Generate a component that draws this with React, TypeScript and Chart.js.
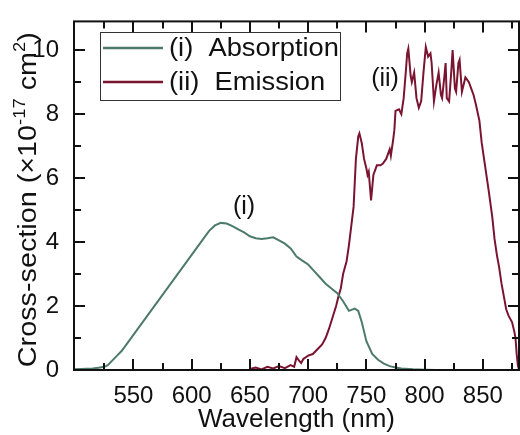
import React, { useEffect, useRef } from "react";
import { Chart, registerables } from "chart.js";

Chart.register(...registerables);

const absWavelength = [
  499, 505, 510, 515, 520, 525, 528, 532, 536, 540,
  545, 550, 555, 560, 565, 570, 575, 580, 585, 590,
  595, 600, 605, 610, 615, 620, 625, 630, 635, 640,
  645, 650, 655, 660, 665, 670, 675, 680, 685, 690,
  695, 700, 705, 710, 715, 720, 725, 730, 735, 740,
  743, 746, 750, 755, 760, 765, 770, 775, 780, 790,
  800, 810,
];
const absValues = [
  0.02, 0.03, 0.04, 0.05, 0.07, 0.1, 0.15, 0.3, 0.45, 0.6,
  0.85, 1.1, 1.35, 1.6, 1.85, 2.1, 2.35, 2.6, 2.85, 3.1,
  3.35, 3.6, 3.85, 4.1, 4.35, 4.52, 4.6, 4.58, 4.5, 4.4,
  4.3, 4.18, 4.12, 4.1, 4.12, 4.15, 4.05, 3.95, 3.8, 3.55,
  3.42, 3.3, 3.1, 2.9, 2.7, 2.55, 2.4, 2.15, 1.85, 1.92,
  1.85, 1.5, 0.9, 0.5, 0.32, 0.2, 0.12, 0.08, 0.05, 0.02,
  0.01, 0,
];

const emWavelength = [
  650, 655, 660, 665, 670, 675, 680, 685, 688, 690,
  692, 694, 696, 698, 700, 704, 708, 712, 715, 718,
  721, 724, 726, 728, 730, 733, 735, 737, 739, 741,
  743, 744, 746, 748, 750, 751, 752, 754, 756, 759,
  762, 764, 767, 770, 771, 773, 774, 775, 778, 780,
  782, 784, 785, 786, 788, 789, 791, 793, 795, 797,
  799, 801, 803, 805, 806, 808, 810, 812, 814, 815,
  817, 818, 819, 821, 823, 824, 826, 827, 829, 830,
  832, 835, 838, 840, 842, 844, 847, 849, 851, 853,
  855, 858, 860, 862, 864, 866, 868, 870, 872, 875,
  877, 878, 879, 880, 881,
];
const emValues = [
  0.03, 0.08, 0.02, 0.1, 0.05, 0.12, 0.06, 0.15, 0.1, 0.4,
  0.3, 0.22, 0.35, 0.4, 0.45, 0.5, 0.65, 0.8, 1.0, 1.3,
  1.65, 2.0, 2.3, 2.55, 3.0, 3.4, 3.9, 4.5, 5.1, 6.6,
  7.3, 7.4, 7.1, 6.6, 6.3, 6.1, 6.2, 5.3, 6.1, 6.4,
  6.4, 6.45, 6.6, 6.9, 6.7, 7.2, 7.5, 8.1, 8.15, 8.0,
  8.5, 9.4, 9.9, 10.05, 9.2, 9.0, 9.3, 8.5, 8.2, 8.4,
  9.3, 10.1, 9.8, 9.9, 9.6, 8.4, 8.9, 9.3, 8.6, 8.5,
  9.2, 9.6, 8.5, 8.4, 9.4, 10.0, 8.8, 8.7, 9.6, 9.7,
  8.7, 9.15, 9.0, 8.8, 8.6, 8.3, 7.8, 7.1, 6.6, 6.1,
  5.6, 4.8, 4.1, 3.6, 3.2, 2.7, 2.3, 1.9, 1.7, 1.5,
  1.2, 1.0, 0.5, 0.15, 0,
];

const xMajorTicks = [550, 600, 650, 700, 750, 800, 850];
const xAllTicks = [525, 550, 575, 600, 625, 650, 675, 700, 725, 750, 775, 800, 825, 850, 875];
const yMajorTicks = [0, 2, 4, 6, 8, 10];
const yMinorTicks = [1, 3, 5, 7, 9];

const seriesLabels = ["(i)  Absorption", "(ii)  Emission"];
const seriesColors = ["#4d7a6c", "#7a1430"];
const xTitle = "Wavelength (nm)";
// y title pieces: [text, isSuperscript]
const yTitleParts: [string, boolean][] = [
  ["Cross-section (×10", false],
  ["-17", true],
  [" cm", false],
  ["2", true],
  [")", false],
];
const X_MIN = 499;
const X_MAX = 881;
const Y_MIN = 0;
const Y_MAX = 10.9;

const FONT = "'Liberation Sans', Arial, Helvetica, sans-serif";

const framePlugin = {
  id: "frame",
  afterDraw(chart: any) {
    const { ctx, chartArea } = chart;
    const xs = chart.scales.x;
    const ys = chart.scales.y;
    const { left, right, top, bottom } = chartArea;
    ctx.save();
    ctx.strokeStyle = "#111";
    ctx.lineWidth = 2;
    ctx.strokeRect(left, top, right - left, bottom - top);
    const major = 11;
    const minor = 7;
    ctx.beginPath();
    xAllTicks.forEach((v) => {
      const px = Math.round(xs.getPixelForValue(v));
      const len = xMajorTicks.includes(v) ? major : minor;
      ctx.moveTo(px, bottom);
      ctx.lineTo(px, bottom - len);
      ctx.moveTo(px, top);
      ctx.lineTo(px, top + len);
    });
    yMajorTicks.forEach((v) => {
      const py = Math.round(ys.getPixelForValue(v));
      ctx.moveTo(left, py);
      ctx.lineTo(left + major, py);
      ctx.moveTo(right, py);
      ctx.lineTo(right - major, py);
    });
    yMinorTicks.forEach((v) => {
      const py = Math.round(ys.getPixelForValue(v));
      ctx.moveTo(left, py);
      ctx.lineTo(left + minor, py);
      ctx.moveTo(right, py);
      ctx.lineTo(right - minor, py);
    });
    ctx.stroke();

    // legend box
    const bx = 100, by = 32, bw = 240, bh = 68;
    ctx.fillStyle = "#fff";
    ctx.fillRect(bx, by, bw, bh);
    ctx.lineWidth = 1;
    ctx.strokeStyle = "#333";
    ctx.strokeRect(bx + 0.5, by + 0.5, bw, bh);
    ctx.font = `26px ${FONT}`;
    ctx.textBaseline = "middle";
    ctx.textAlign = "left";
    const rows = [48, 82];
    rows.forEach((ry, i) => {
      ctx.strokeStyle = seriesColors[i];
      ctx.lineWidth = 2.5;
      ctx.beginPath();
      ctx.moveTo(103, ry);
      ctx.lineTo(163, ry);
      ctx.stroke();
      ctx.fillStyle = "#111";
      ctx.save();
      ctx.translate(169, ry + 1);
      ctx.scale(1.05, 1);
      ctx.fillText(seriesLabels[i], 0, 0);
      ctx.restore();
    });

    // curve annotations
    ctx.font = `25px ${FONT}`;
    ctx.textAlign = "center";
    ctx.fillStyle = "#111";
    ctx.fillText("(i)", xs.getPixelForValue(645), ys.getPixelForValue(5.1));
    ctx.fillText("(ii)", xs.getPixelForValue(766), ys.getPixelForValue(9.1));

    // y axis title with superscripts
    const mainFont = `25px ${FONT}`;
    const supFont = `16px ${FONT}`;
    let total = 0;
    yTitleParts.forEach(([t, sup]) => {
      ctx.font = sup ? supFont : mainFont;
      total += ctx.measureText(t).width;
    });
    const targetLen = 335;
    const sx = targetLen / total;
    const centerY = (top + bottom) / 2 + 4;
    ctx.save();
    ctx.translate(36, centerY);
    ctx.rotate(-Math.PI / 2);
    ctx.scale(sx, 1);
    ctx.textAlign = "left";
    ctx.textBaseline = "alphabetic";
    let cx = -total / 2;
    yTitleParts.forEach(([t, sup]) => {
      ctx.font = sup ? supFont : mainFont;
      ctx.fillText(t, cx, sup ? -11 : 0);
      cx += ctx.measureText(t).width;
    });
    ctx.restore();
    ctx.restore();
  },
};

export default function App() {
  const ref = useRef<HTMLCanvasElement | null>(null);
  useEffect(() => {
    document.body.style.margin = "0";
    const canvas = ref.current;
    if (!canvas) return;
    const chart = new Chart(canvas, {
      type: "line",
      data: {
        datasets: [
          {
            label: seriesLabels[0],
            data: absWavelength.map((x, i) => ({ x, y: absValues[i] })),
            borderColor: seriesColors[0],
            borderWidth: 2,
            pointRadius: 0,
            tension: 0,
          },
          {
            label: seriesLabels[1],
            data: emWavelength.map((x, i) => ({ x, y: emValues[i] })),
            borderColor: seriesColors[1],
            borderWidth: 2,
            pointRadius: 0,
            tension: 0,
          },
        ],
      },
      options: {
        animation: false,
        responsive: false,
        maintainAspectRatio: false,
        layout: { padding: { top: 6, right: 1, left: 0, bottom: 0 } },
        plugins: {
          legend: { display: false },
          tooltip: { enabled: false },
        },
        scales: {
          x: {
            type: "linear",
            min: X_MIN,
            max: X_MAX,
            afterBuildTicks: (s: any) => {
              s.ticks = xMajorTicks.map((v) => ({ value: v }));
            },
            afterFit: (s: any) => {
              s.height = 65;
            },
            grid: { display: false },
            border: { display: false },
            ticks: {
              color: "#111",
              padding: 4,
              maxRotation: 0,
              autoSkip: false,
              font: { family: FONT, size: 24 },
            },
            title: {
              display: true,
              text: xTitle,
              color: "#111",
              padding: { top: 2, bottom: 0 },
              font: { family: FONT, size: 26 },
            },
          },
          y: {
            type: "linear",
            min: Y_MIN,
            max: Y_MAX,
            afterBuildTicks: (s: any) => {
              s.ticks = yMajorTicks.map((v) => ({ value: v }));
            },
            afterFit: (s: any) => {
              s.width = 74;
            },
            grid: { display: false },
            border: { display: false },
            ticks: {
              color: "#111",
              padding: 7,
              autoSkip: false,
              font: { family: FONT, size: 24 },
            },
            title: { display: false },
          },
        },
      },
      plugins: [framePlugin],
    } as any);
    return () => chart.destroy();
  }, []);
  return <canvas ref={ref} width={520} height={435} style={{ display: "block" }} />;
}
